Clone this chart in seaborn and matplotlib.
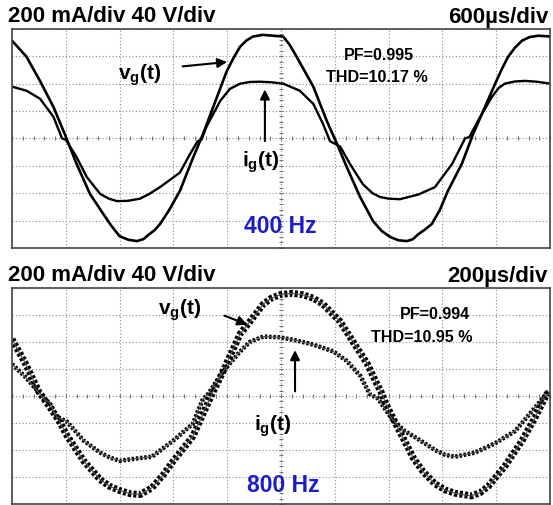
import matplotlib
matplotlib.use("Agg")
import matplotlib.pyplot as plt
import seaborn as sns
import numpy as np

# ---- data read off the scope screens (x in divisions, y in divisions) ----
# 400 Hz capture
vg400_x = [0, 0.27, 0.52, 0.77, 0.98, 1.20, 1.45, 1.70, 1.85, 2.00, 2.16, 2.32, 2.44, 2.55, 2.65, 2.75,
           2.92, 3.12, 3.37, 3.55, 3.74, 3.99, 4.12, 4.24, 4.36, 4.48, 4.66, 4.85, 5.04, 5.16, 5.29,
           5.60, 5.85, 6.04, 6.22, 6.47, 6.71, 6.87, 7.03, 7.18, 7.34, 7.45, 7.55, 7.66, 7.80, 7.95,
           8.10, 8.36, 8.57, 8.79, 8.98, 9.10, 9.22, 9.35, 9.48, 9.62, 9.78, 10.0]
vg400_y = [3.57, 2.98, 2.10, 1.15, 0.16, -0.93, -2.03, -2.77, -3.20, -3.57, -3.70, -3.75, -3.68, -3.50, -3.35, -3.13,
           -2.62, -1.92, -0.68, 0.16, 1.15, 2.45, 2.95, 3.35, 3.58, 3.72, 3.78, 3.75, 3.72, 3.42, 2.98,
           1.89, 0.64, -0.20, -1.04, -2.14, -3.02, -3.38, -3.60, -3.72, -3.75, -3.68, -3.50, -3.35, -3.13, -2.62,
           -1.92, -0.93, 0.16, 1.15, 2.00, 2.52, 2.98, 3.32, 3.57, 3.70, 3.75, 3.72]

ig400_x = [0, 0.27, 0.52, 0.77, 0.93, 1.00, 1.20, 1.39, 1.64, 1.80, 1.95, 2.15, 2.38, 2.55, 2.75, 3.12, 3.30,
           3.45, 3.52, 3.62, 3.87, 4.05, 4.24, 4.42, 4.60, 4.82, 5.04, 5.35, 5.60, 5.78, 5.91, 6.10,
           6.28, 6.52, 6.70, 6.84, 7.00, 7.21, 7.55, 7.86, 8.18, 8.42, 8.50, 8.66, 8.92, 9.05, 9.16, 9.35,
           9.54, 9.75, 10.0]
ig400_y = [1.89, 1.74, 1.45, 0.79, 0.00, -0.05, -0.68, -1.41, -2.03, -2.20, -2.29, -2.28, -2.20, -2.03, -1.78, -1.25, -0.60,
           -0.10, -0.05, 0.45, 1.37, 1.81, 2.00, 2.06, 2.07, 2.05, 2.00, 1.74, 1.26, 0.53, -0.10, -0.30,
           -0.93, -1.67, -2.00, -2.14, -2.20, -2.22, -2.05, -1.78, -0.93, 0.00, 0.05, 0.64, 1.52, 1.85, 2.00, 2.08,
           2.10, 2.07, 2.00]

# 800 Hz capture
vg800_x = [0, 0.25, 0.50, 0.70, 0.90, 1.00, 1.33, 1.64, 1.82, 2.00, 2.20, 2.38, 2.60, 2.80, 3.00, 3.36, 3.70,
           3.92, 4.24, 4.42, 4.67, 4.82, 4.98, 5.20, 5.40, 5.60, 5.78, 6.10, 6.34, 6.60, 6.78, 6.87, 6.95,
           7.15, 7.46, 7.64, 7.86, 8.05, 8.23, 8.54, 8.70, 8.85, 9.16, 9.48, 9.72, 9.94, 10.0]
vg800_y = [2.10, 1.20, 0.15, -0.40, -1.00, -1.40, -2.40, -3.10, -3.35, -3.50, -3.62, -3.65, -3.40, -2.95, -2.40, -1.50, 0.00,
           0.90, 2.30, 2.75, 3.40, 3.62, 3.75, 3.80, 3.75, 3.62, 3.40, 2.75, 2.00, 1.20, 0.45, 0.10, -0.30,
           -1.10, -2.30, -2.80, -3.25, -3.48, -3.60, -3.70, -3.58, -3.35, -2.60, -1.65, -0.80, 0.07, 0.15]

ig800_x = [0, 0.25, 0.47, 0.58, 0.70, 0.83, 1.02, 1.33, 1.64, 1.82, 2.00, 2.38, 2.60, 3.00, 3.36,
           3.55, 3.62, 3.92, 4.24, 4.42, 4.67, 4.98, 5.30, 5.60, 5.97, 6.22, 6.47, 6.65, 6.80,
           7.08, 7.30, 7.55, 7.86, 8.05, 8.23, 8.60, 8.98, 9.35, 9.67, 9.90, 10.0]
ig800_y = [1.18, 0.70, 0.20, -0.10, -0.25, -0.77, -0.95, -1.65, -2.10, -2.28, -2.40, -2.30, -2.25, -1.65, -1.03,
           -0.10, 0.00, 0.90, 1.65, 2.00, 2.20, 2.17, 2.05, 1.90, 1.65, 1.30, 0.75, 0.07, -0.10,
           -0.90, -1.30, -1.60, -2.00, -2.18, -2.25, -2.10, -1.75, -1.30, -0.55, 0.00, 0.10]

sns.set_style("white")
plt.rcParams["font.family"] = ["Liberation Sans", "DejaVu Sans"]
plt.rcParams["font.weight"] = "bold"
plt.rcParams["text.color"] = "black"
plt.rcParams["mathtext.fontset"] = "custom"
plt.rcParams["mathtext.rm"] = "Liberation Sans:bold"
plt.rcParams["mathtext.it"] = "Liberation Sans:bold"
plt.rcParams["mathtext.default"] = "rm"

fig = plt.figure(figsize=(5.53, 5.06), dpi=100)
ax1 = fig.add_axes([0.0217, 0.508, 0.973, 0.433])
ax2 = fig.add_axes([0.0217, 0.002, 0.973, 0.427])


def scope_screen(ax):
    ax.set_xlim(0, 10)
    ax.set_ylim(-4, 4)
    ax.set_xticks(range(11))
    ax.set_yticks(range(-4, 5))
    ax.tick_params(length=0, labelbottom=False, labelleft=False)
    ax.grid(True, linestyle=(0, (1, 2)), color="#8a8a8a", linewidth=0.8)
    for s in ax.spines.values():
        s.set_color("#444444")
        s.set_linewidth(1.2)
    # little ticks on the centre lines
    tx = np.arange(0, 10.01, 0.2)
    ty = np.arange(-4, 4.01, 0.2)
    ax.plot(tx, np.zeros_like(tx), "|", color="#777777", ms=3.5, mew=0.8)
    ax.plot(np.full_like(ty, 5.0), ty, "_", color="#777777", ms=3.5, mew=0.8)


for ax in (ax1, ax2):
    scope_screen(ax)

# 400 Hz traces
sns.lineplot(x=vg400_x, y=vg400_y, ax=ax1, color="black", linewidth=1.9, sort=False)
sns.lineplot(x=ig400_x, y=ig400_y, ax=ax1, color="black", linewidth=1.7, sort=False)

# 800 Hz traces (switching ripple drawn as a hatched band)
sns.lineplot(x=vg800_x, y=vg800_y, ax=ax2, color="black", linewidth=5,
             linestyle=(0, (0.45, 0.3)), sort=False)
sns.lineplot(x=vg800_x, y=vg800_y, ax=ax2, color="#555555", linewidth=0.8, sort=False)
sns.lineplot(x=ig800_x, y=ig800_y, ax=ax2, color="black", linewidth=3.2,
             linestyle=(0, (0.55, 0.4)), sort=False)
sns.lineplot(x=ig800_x, y=ig800_y, ax=ax2, color="#555555", linewidth=0.8, sort=False)

arrow = dict(arrowstyle="-|>", color="black", lw=1.5, mutation_scale=14)
fs_lab = 15
fs_info = 11.6
fs_freq = 16.5
blue = "#1c1cc8"

# top annotations
ax1.text(2.38, 2.36, r"v$_{g}$(t)", fontsize=fs_lab, ha="center", va="center")
ax1.annotate("", xy=(4.05, 2.80), xytext=(3.12, 2.62), arrowprops=arrow)
ax1.text(4.63, -0.82, r"i$_{g}$(t)", fontsize=fs_lab, ha="center", va="center")
ax1.annotate("", xy=(4.70, 1.89), xytext=(4.70, -0.20), arrowprops=arrow)
ax1.text(6.82, 3.06, "PF=0.995", fontsize=fs_info, ha="center", va="center")
ax1.text(6.78, 2.25, "THD=10.17 %", fontsize=fs_info, ha="center", va="center")
ax1.text(4.98, -3.17, "400 Hz", fontsize=fs_freq, color=blue, ha="center", va="center")

# bottom annotations
ax2.text(3.12, 3.20, r"v$_{g}$(t)", fontsize=fs_lab, ha="center", va="center")
ax2.annotate("", xy=(4.42, 2.61), xytext=(3.90, 3.01), arrowprops=arrow)
ax2.text(4.85, -1.07, r"i$_{g}$(t)", fontsize=fs_lab, ha="center", va="center")
ax2.annotate("", xy=(5.26, 1.80), xytext=(5.26, 0.07), arrowprops=arrow)
ax2.text(7.86, 3.05, "PF=0.994", fontsize=fs_info, ha="center", va="center")
ax2.text(7.62, 2.20, "THD=10.95 %", fontsize=fs_info, ha="center", va="center")
ax2.text(5.04, -3.27, "800 Hz", fontsize=fs_freq, color=blue, ha="center", va="center")

# scale headers
fig.text(0.0145, 1 - 16 / 506, "200 mA/div 40 V/div", fontsize=16, ha="left", va="center")
fig.text(0.991, 1 - 17 / 506, "600µs/div", fontsize=16, ha="right", va="center")
fig.text(0.0145, 1 - 276 / 506, "200 mA/div 40 V/div", fontsize=16, ha="left", va="center")
fig.text(0.991, 1 - 277 / 506, "200µs/div", fontsize=16, ha="right", va="center")

fig.savefig("out.png", dpi=100, facecolor="white")
